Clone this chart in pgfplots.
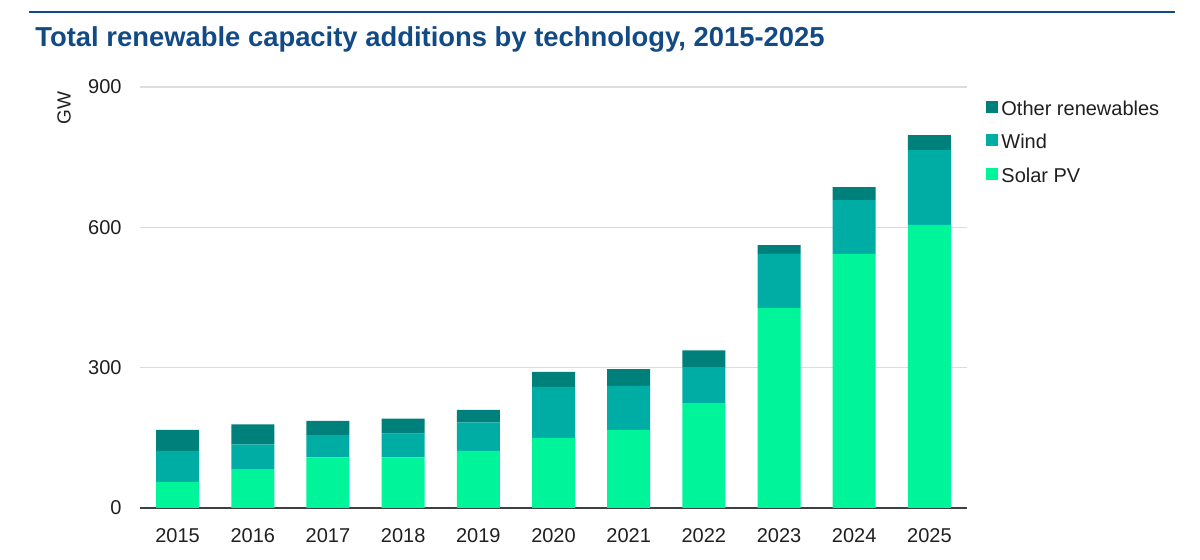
\documentclass[border=0pt]{standalone}
\usepackage{fontspec}
\setmainfont{Liberation Sans}
\usepackage{pgfplots}
\pgfplotsset{compat=1.18}
\definecolor{otherc}{HTML}{00807A}
\definecolor{windc}{HTML}{00ADA5}
\definecolor{solarc}{HTML}{00F59A}
\definecolor{titleblue}{HTML}{114A85}
\definecolor{txt}{HTML}{1F1F1F}
\definecolor{gridc}{HTML}{DCDCDC}
\definecolor{axisc}{HTML}{404040}
\begin{document}
\begin{tikzpicture}[x=1pt,y=1pt]
\useasboundingbox (0,0) rectangle (600,280);
\draw[titleblue, line width=1.25pt] (14.5,274) -- (587.5,274);
\node[anchor=base west, inner sep=0, font=\fontsize{13.7}{16}\selectfont\bfseries, text=titleblue] at (17.5,256.5) {Total renewable capacity additions by technology, 2015-2025};
\begin{axis}[
  at={(70pt,26pt)}, anchor=south west, scale only axis,
  width=413.5pt, height=210.5pt,
  ybar stacked, bar width=21.5pt,
  xmin=-0.5, xmax=10.5, ymin=0, ymax=900,
  xtick={0,1,2,3,4,5,6,7,8,9,10},
  xticklabels={2015,2016,2017,2018,2019,2020,2021,2022,2023,2024,2025},
  ytick={0,300,600,900},
  ymajorgrids, grid style={color=gridc, line width=0.75pt},
  axis x line=bottom, axis y line=left,
  x axis line style={-, color=axisc, line width=1pt},
  y axis line style={draw=none},
  major tick length=0pt, tick style={draw=none},
  /pgf/number format/assume math mode=true,
  ticklabel style={font=\fontsize{10}{12}\selectfont, text=txt, inner sep=0pt},
  yticklabel style={anchor=east, xshift=-9pt},
  xticklabel style={anchor=north, yshift=-10pt},
  ylabel={GW},
  ylabel style={at={(rel axis cs:-0.0919,0.950)}, anchor=center, font=\fontsize{9.5}{11}\selectfont, text=txt, inner sep=0pt},
  reverse legend,
  legend cell align=left,
  legend image code/.code={\fill[#1] (0pt,-2.6pt) rectangle (6pt,3.4pt);},
  legend style={at={(rel axis cs:1.023,0.970)}, anchor=north west, draw=none, fill=none,
    inner sep=0pt, row sep=9.3pt, column sep=1.5pt,
    nodes={inner sep=0pt, text height=7.5pt, text depth=0pt, font=\fontsize{10}{12}\selectfont, text=txt}},
]
\addplot[fill=solarc, draw=none] coordinates {(0,56) (1,83) (2,108) (3,108) (4,122) (5,150) (6,167) (7,224) (8,427) (9,543) (10,605)};
\addlegendentry{Solar PV}
\addplot[fill=windc, draw=none] coordinates {(0,66) (1,53) (2,48) (3,51) (4,61) (5,109) (6,94) (7,77) (8,116) (9,115) (10,160)};
\addlegendentry{Wind}
\addplot[fill=otherc, draw=none] coordinates {(0,45) (1,43) (2,30) (3,32) (4,27) (5,32) (6,36) (7,36) (8,19) (9,28) (10,32)};
\addlegendentry{Other renewables}
\end{axis}
\end{tikzpicture}
\end{document}
